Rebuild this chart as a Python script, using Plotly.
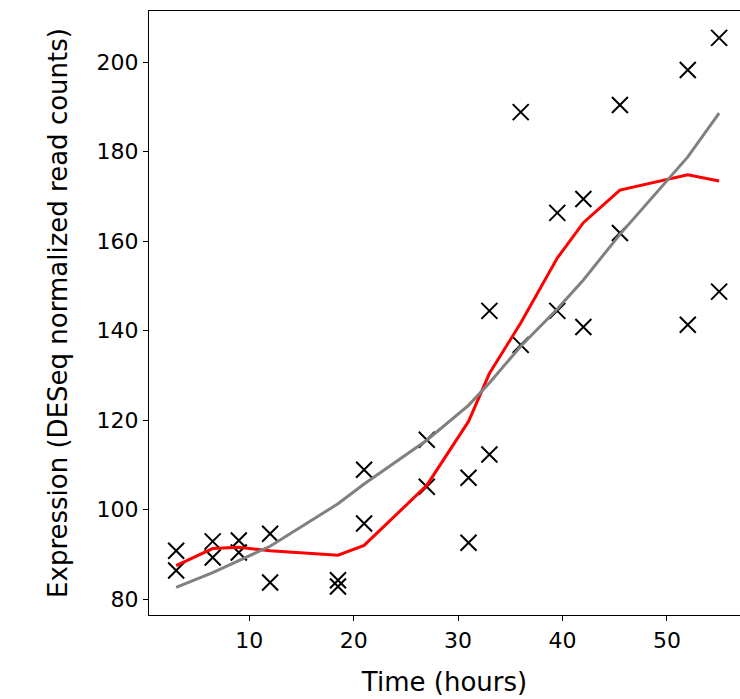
import plotly.graph_objects as go

# Observed expression values (time in hours)
obs_time = [3, 3, 6.5, 6.5, 9, 9, 12, 12, 18.5, 18.5, 21, 21, 27, 27, 31, 31,
            33, 33, 36, 36, 39.5, 39.5, 42, 42, 45.5, 45.5, 52, 52, 55, 55]
obs_expr = [90.8, 86.4, 92.9, 89.3, 93.1, 90.4, 94.6, 83.7, 84.2, 82.8, 108.9, 96.9,
            115.6, 105.1, 107.1, 92.6, 112.3, 144.4, 188.8, 136.8, 166.3, 144.4,
            169.4, 140.8, 190.4, 161.8, 198.2, 141.3, 205.4, 148.7]

# Fitted curves evaluated at unique time points
fit_time = [3, 6.5, 9, 12, 18.5, 21, 27, 31, 33, 36, 39.5, 42, 45.5, 52, 55]
red_fit = [87.5, 91.3, 91.6, 90.8, 89.8, 92.0, 105.4, 119.7, 130.4, 141.7,
           156.2, 164.1, 171.4, 174.8, 173.4]
gray_fit = [82.6, 85.9, 88.6, 91.8, 101.3, 105.7, 115.5, 123.3, 128.3, 136.5,
            144.8, 151.3, 161.5, 178.8, 188.6]

font = "DejaVu Sans"

fig = go.Figure()
fig.add_trace(go.Scatter(x=obs_time, y=obs_expr, mode="markers",
                         marker=dict(symbol="x-thin", size=16, color="black",
                                     line=dict(color="black", width=2)),
                         showlegend=False))
fig.add_trace(go.Scatter(x=fit_time, y=red_fit, mode="lines",
                         line=dict(color="#ff0000", width=3), showlegend=False))
fig.add_trace(go.Scatter(x=fit_time, y=gray_fit, mode="lines",
                         line=dict(color="#808080", width=3), showlegend=False))

fig.update_layout(
    width=740, height=699,
    margin=dict(l=149, r=0, t=11, b=84),
    paper_bgcolor="white", plot_bgcolor="white",
    font=dict(family=font, size=22, color="black"),
)
fig.update_xaxes(range=[0.4, 57.0], tickvals=[10, 20, 30, 40, 50],
                 showgrid=False, zeroline=False, showline=True, linecolor="black",
                 linewidth=1.3, mirror=True, ticks="outside", ticklen=5,
                 tickwidth=1.2, tickcolor="black", automargin=False,
                 tickfont=dict(size=22),
                 title=dict(text="Time (hours)", font=dict(size=26), standoff=21))
fig.update_yaxes(range=[76.45, 211.4], tickvals=[80, 100, 120, 140, 160, 180, 200],
                 showgrid=False, zeroline=False, showline=True, linecolor="black",
                 linewidth=1.3, mirror=False, ticks="outside", ticklen=5,
                 tickwidth=1.2, tickcolor="black", automargin=False,
                 tickfont=dict(size=22),
                 title=dict(text="Expression (DESeq normalized read counts)",
                            font=dict(size=26), standoff=21))

fig.write_html("out.html", config={"displayModeBar": False},
               post_script="document.body.style.margin='0';"
               "document.body.style.overflow='hidden';")
